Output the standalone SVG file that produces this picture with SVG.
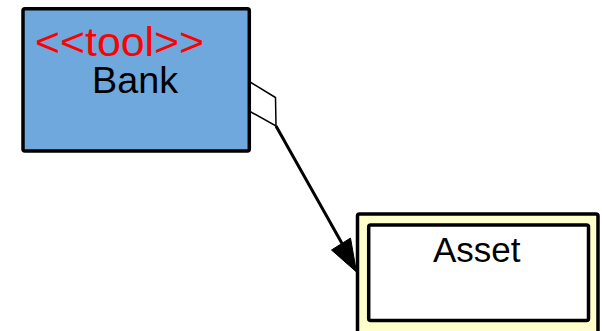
<svg xmlns="http://www.w3.org/2000/svg" width="602" height="331" viewBox="0 0 602 331">
<style>
text{font-family:"Liberation Sans",Arial,sans-serif;}
.box{stroke:#000;stroke-width:3.5;}
</style>
<rect width="602" height="331" fill="#fff"/>
<g id="connectors">
<line x1="276" y1="126" x2="344" y2="247" stroke="#000" stroke-width="3"/>
<polygon points="250,82 275.5,97.5 276,126 250,111.5" fill="#fff" stroke="#000" stroke-width="1.5"/>
<polygon points="356.5,272 331.5,250 350.5,238" fill="#000" stroke="#000" stroke-width="1"/>
</g>
<g id="Bank">
<rect class="box" x="23" y="8.7" width="226.3" height="142.3" rx="2" fill="#6fa8dc"/>
<text x="35" y="56" font-size="40" fill="#ff0000" textLength="169" lengthAdjust="spacingAndGlyphs">&lt;&lt;tool&gt;&gt;</text>
<text x="92" y="93.3" font-size="36" fill="#000" textLength="86" lengthAdjust="spacingAndGlyphs">Bank</text>
</g>
<g id="Asset">
<rect class="box" x="357.5" y="214" width="240.5" height="130" rx="2" fill="#ffffcc"/>
<rect class="box" x="368.7" y="225" width="219.8" height="95.5" rx="2" fill="#fff"/>
<text x="433" y="261.7" font-size="35" fill="#000">Asset</text>
</g>
</svg>
